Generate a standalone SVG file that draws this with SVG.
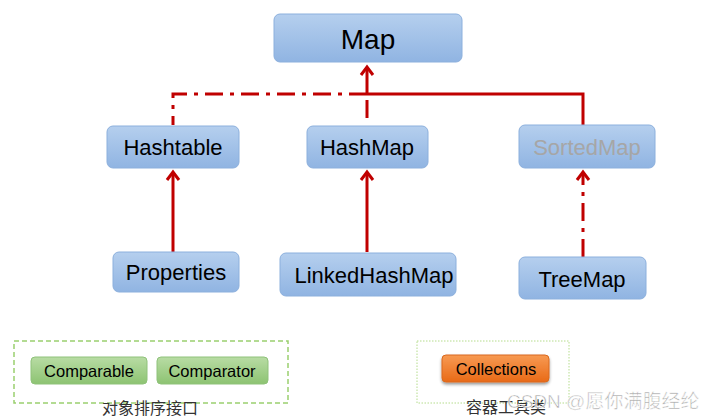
<svg xmlns="http://www.w3.org/2000/svg" width="712" height="420" viewBox="0 0 712 420">
<style>
.box{fill:url(#blue);stroke:#8cb0dd;stroke-width:1}
.t{font-family:"Liberation Sans",Arial,sans-serif;font-size:22px;fill:#000;text-anchor:middle}
.g{fill:url(#green);stroke:#8fc27a;stroke-width:1}
.gt{font-family:"Liberation Sans",Arial,sans-serif;font-size:16.5px;fill:#000;text-anchor:middle}
.cn{font-family:"Noto Sans CJK SC",sans-serif;font-size:16px;fill:#333;text-anchor:middle}
.ln{fill:none;stroke:#c00000;stroke-width:3}
.dd{stroke-dasharray:18 7 4 7}
.ah{fill:none;stroke:#c00000;stroke-width:3}
</style>
<defs>
<linearGradient id="blue" x1="0" y1="0" x2="0" y2="1"><stop offset="0" stop-color="#b5cfee"/><stop offset="1" stop-color="#90b4e2"/></linearGradient>
<linearGradient id="green" x1="0" y1="0" x2="0" y2="1"><stop offset="0" stop-color="#b8dca4"/><stop offset="1" stop-color="#8dc372"/></linearGradient>
<linearGradient id="orange" x1="0" y1="0" x2="0" y2="1"><stop offset="0" stop-color="#f79a52"/><stop offset="1" stop-color="#e96a17"/></linearGradient>
<filter id="sh" x="-20%" y="-20%" width="140%" height="160%"><feDropShadow dx="0" dy="2" stdDeviation="1.5" flood-color="#000" flood-opacity="0.4"/></filter>
</defs>
<g id="connectors">
<path class="ln" d="M367,94 L367,67"/>
<path class="ah" d="M361,75 L367,67 L373,75"/>
<path class="ln" d="M367,94 L583,94 L583,125"/>
<path class="ln dd" d="M367,94 L173,94 L173,125"/>
<path class="ln dd" d="M367,100 L367,125"/>
<path class="ln" d="M173,252 L173,172"/>
<path class="ah" d="M167,180 L173,172 L179,180"/>
<path class="ln" d="M367,252 L367,172"/>
<path class="ah" d="M361,180 L367,172 L373,180"/>
<path class="ln dd" d="M583,257 L583,172"/>
<path class="ah" d="M577,180 L583,172 L589,180"/>
</g>
<g id="Map"><rect class="box" x="274" y="14" width="188" height="48" rx="6"/><text class="t" x="368" y="49" style="font-size:28px">Map</text></g>
<g id="Hashtable"><rect class="box" x="107" y="126" width="132" height="42" rx="6"/><text class="t" x="173" y="155">Hashtable</text></g>
<g id="HashMap"><rect class="box" x="307" y="126" width="121" height="42" rx="6"/><text class="t" x="367" y="155">HashMap</text></g>
<g id="SortedMap"><rect class="box" x="519" y="125" width="136" height="43" rx="6"/><text class="t" x="587" y="155" style="fill:#a6a6a6">SortedMap</text></g>
<g id="Properties"><rect class="box" x="113" y="252" width="126" height="40" rx="6"/><text class="t" x="176" y="280">Properties</text></g>
<g id="LinkedHashMap"><rect class="box" x="280" y="253" width="176" height="43" rx="6"/><text class="t" x="374" y="283">LinkedHashMap</text></g>
<g id="TreeMap"><rect class="box" x="519" y="257" width="127" height="42" rx="6"/><text class="t" x="582" y="287">TreeMap</text></g>
<g id="sortGroup">
<rect x="14" y="341" width="274" height="62" fill="none" stroke="#9bcf6f" stroke-width="1.5" stroke-dasharray="5 3"/>
<text class="cn" x="150" y="414">对象排序接口</text>
</g>
<g id="Comparable"><rect class="g" x="31" y="357" width="116" height="27" rx="4"/><text class="gt" x="89" y="377">Comparable</text></g>
<g id="Comparator"><rect class="g" x="157" y="357" width="111" height="27" rx="4"/><text class="gt" x="212" y="377">Comparator</text></g>
<g id="toolGroup">
<rect x="417" y="341" width="152" height="62" fill="none" stroke="#b5dc8c" stroke-width="1" stroke-dasharray="1.5 1.5"/>
<text class="cn" x="506" y="413">容器工具类</text>
</g>
<g id="Collections"><rect x="442" y="355" width="107" height="27" rx="4" fill="url(#orange)" stroke="#d9691e" filter="url(#sh)"/><text class="gt" x="496" y="375">Collections</text></g>
<g id="watermark">
<text x="507" y="408" font-family="'Liberation Sans','Noto Sans CJK SC',sans-serif" font-size="19" fill="#9a9a9a" fill-opacity="0.85" stroke="#fff" stroke-width="0.6">CSDN @愿你满腹经纶</text>
</g>
</svg>
